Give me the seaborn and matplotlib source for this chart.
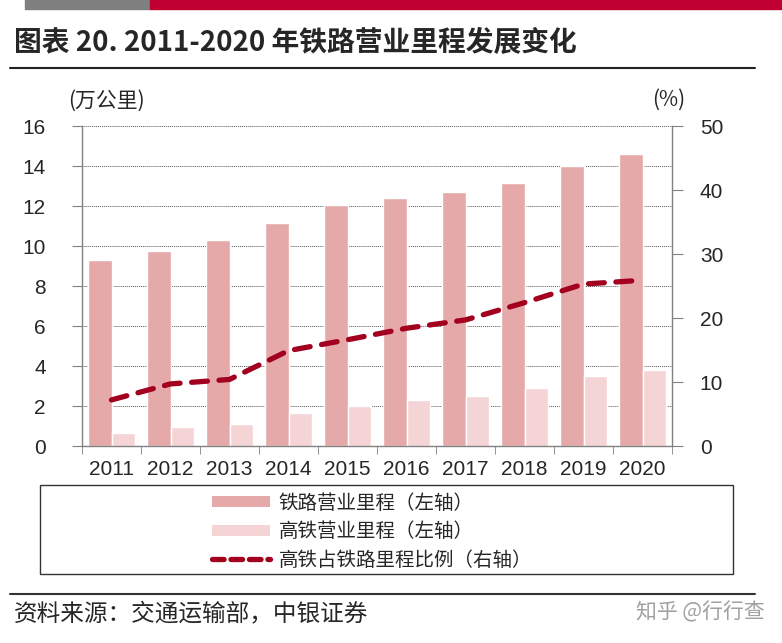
import numpy as np
import pandas as pd
import matplotlib
matplotlib.use("Agg")
import matplotlib.pyplot as plt
import seaborn as sns
from matplotlib.patches import Patch, Rectangle
from matplotlib.lines import Line2D
from matplotlib.ticker import FixedLocator

# data
years = ["2011", "2012", "2013", "2014", "2015", "2016", "2017", "2018", "2019", "2020"]
rail_km = [9.3, 9.75, 10.3, 11.15, 12.07, 12.4, 12.7, 13.15, 14.0, 14.6]   # 万公里
hsr_km = [0.66, 0.95, 1.1, 1.66, 1.98, 2.3, 2.5, 2.9, 3.5, 3.8]           # 万公里
hsr_share = [7.2, 9.7, 10.4, 14.9, 16.6, 18.4, 19.7, 22.4, 25.3, 25.9]     # %

series_names = ["铁路营业里程（左轴）", "高铁营业里程（左轴）", "高铁占铁路里程比例（右轴）"]

RAIL_COLOR = "#E6A9A9"
HSR_COLOR = "#F4D4D4"
LINE_COLOR = "#A3001F"
GRID_GRAY = "#808080"

W, H = 782, 643
CJK = ["Noto Sans CJK SC", "DejaVu Sans"]
NUM = ["Liberation Sans Narrow", "Liberation Sans", "DejaVu Sans"]


def px(x, y):
    """pixel coords (top-left origin) -> figure fraction"""
    return x / W, 1 - y / H


sns.set_style("ticks")
plt.rcParams["font.family"] = CJK
plt.rcParams["axes.unicode_minus"] = False

df = pd.DataFrame({
    "year": years * 2,
    "km": rail_km + hsr_km,
    "series": [series_names[0]] * len(years) + [series_names[1]] * len(years),
})

fig = plt.figure(figsize=(W / 100, H / 100), dpi=100)
ax = fig.add_axes([82 / W, 1 - 446 / H, (672 - 82) / W, (446 - 126) / H])

sns.barplot(data=df, x="year", y="km", hue="series", palette=[RAIL_COLOR, HSR_COLOR],
            width=0.8, saturation=1, ax=ax, legend=False)

ax2 = ax.twinx()
sns.lineplot(x=np.arange(len(years)), y=hsr_share, ax=ax2, color=LINE_COLOR,
             linewidth=3.8, linestyle=(0, (3.0, 2.2)), dash_capstyle="round")

# left axis
ax.set_xlim(-0.5, len(years) - 0.5)
ax.set_ylim(0, 16)
ax.set_yticks(np.arange(0, 17, 2))
ax.set_xlabel("")
ax.set_ylabel("")
ax.yaxis.grid(True, linestyle=(0, (1, 1)), color="#555555", linewidth=0.7)
ax.set_axisbelow(True)
ax.tick_params(axis="y", length=7, color=GRID_GRAY, pad=19, labelsize=15)
ax.tick_params(axis="x", which="major", length=0, pad=10, labelsize=15)
ax.xaxis.set_minor_locator(FixedLocator(np.arange(-0.5, len(years), 1)))
ax.tick_params(axis="x", which="minor", length=6, color=GRID_GRAY)
for lab in ax.get_xticklabels() + ax.get_yticklabels():
    lab.set_family(NUM)

# right axis
ax2.set_ylim(0, 50)
ax2.set_yticks(np.arange(0, 51, 10))
ax2.set_ylabel("")
ax2.tick_params(axis="y", length=8, color=GRID_GRAY, pad=12, labelsize=15)
for lab in ax2.get_yticklabels():
    lab.set_family(NUM)

for s in ["top", "right"]:
    ax.spines[s].set_visible(False)
for s in ["top", "left", "bottom"]:
    ax2.spines[s].set_visible(False)
for a, s in [(ax, "left"), (ax, "bottom"), (ax2, "right")]:
    a.spines[s].set_color(GRID_GRAY)
    a.spines[s].set_linewidth(1.0)

# header bars and title
fig.patches.append(Rectangle(px(25, 9), 125 / W, 9 / H, transform=fig.transFigure,
                             color="#7F7F7F", zorder=0))
fig.patches.append(Rectangle(px(150, 9), 632 / W, 9 / H, transform=fig.transFigure,
                             color="#BF0030", zorder=0))
fig.text(*px(14, 43), "图表 20. 2011-2020 年铁路营业里程发展变化", fontsize=20,
         fontweight="bold", va="center", ha="left", family=CJK)
fig.add_artist(Line2D([10 / W, 755 / W], [1 - 68 / H] * 2, transform=fig.transFigure,
                      color="#222222", linewidth=1.5))

# unit labels
fig.text(*px(68, 101), "(万公里)", fontsize=15, va="center", ha="left", family=CJK)
fig.text(*px(652, 100), "(%)", fontsize=15, va="center", ha="left", family=CJK)

# legend box and legend
fig.patches.append(Rectangle(px(40, 574), (733 - 40) / W, (574 - 485) / H,
                             transform=fig.transFigure, fill=False,
                             edgecolor="#333333", linewidth=1.0))
handles = [
    Patch(facecolor=RAIL_COLOR, edgecolor="none"),
    Patch(facecolor=HSR_COLOR, edgecolor="none"),
    Line2D([], [], color=LINE_COLOR, linewidth=3.8, linestyle=(0, (2.2, 1.3)),
           dash_capstyle="round"),
]
fig.legend(handles, series_names, loc="upper left", bbox_to_anchor=px(202, 483),
           frameon=False, borderpad=0, handlelength=3.0, handleheight=0.5,
           handletextpad=0.45, labelspacing=0.38, prop={"family": CJK, "size": 14})

# footer
fig.add_artist(Line2D([10 / W, 755 / W], [1 - 594 / H] * 2, transform=fig.transFigure,
                      color="#333333", linewidth=1.5))
fig.text(*px(14, 615), "资料来源：交通运输部，中银证券", fontsize=17, va="center",
         ha="left", family=CJK, style="italic")
fig.text(*px(765, 612), "知乎 @行行查", fontsize=15, va="center", ha="right",
         family=CJK, color="#A0A0A0")

fig.savefig("out.png", dpi=100)
